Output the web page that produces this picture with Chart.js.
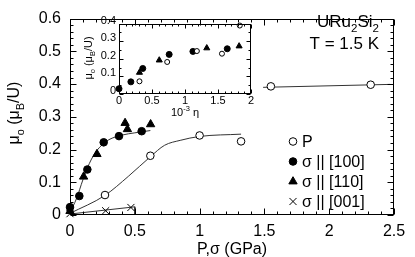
<!DOCTYPE html>
<html lang="en">
<head>
  <meta charset="UTF-8">
  <title>URu2Si2 ordered moment vs pressure</title>
  <script src="https://cdn.jsdelivr.net/npm/chart.js"></script>
  <style>
    html, body { margin: 0; padding: 0; background: #fff; }
    #wrap { position: relative; width: 415px; height: 257px; }
    #main { position: absolute; left: 0; top: 0; }
    #inset { position: absolute; left: 76px; top: 14px; }
  </style>
</head>
<body>
  <div id="wrap">
    <canvas id="main" width="415" height="257"></canvas>
    <canvas id="inset" width="180" height="110"></canvas>
  </div>
  <script>
    // main panel: moment vs hydrostatic P / uniaxial stress (GPa)
    const hydroP  = [0.27, 0.62, 1.0, 1.32, 1.55, 2.32];
    const hydroMu = [0.061, 0.181, 0.243, 0.225, 0.393, 0.398];
    const s100    = [0, 0.072, 0.134, 0.26, 0.378, 0.553];
    const s100Mu  = [0.024, 0.058, 0.139, 0.222, 0.241, 0.256];
    const s110    = [0, 0.105, 0.208, 0.425, 0.443, 0.622];
    const s110Mu  = [0.012, 0.117, 0.186, 0.281, 0.262, 0.277];
    const s001    = [0, 0.275, 0.47];
    const s001Mu  = [0.004, 0.013, 0.023];

    // guide lines through the data
    const fitSigX  = [0, 0.05, 0.1, 0.15, 0.2, 0.25, 0.3, 0.4, 0.5, 0.62];
    const fitSigY  = [0.008, 0.05, 0.108, 0.158, 0.193, 0.215, 0.23, 0.244, 0.251, 0.258];
    const fitLowX  = [0, 0.27, 0.45, 0.62, 0.73, 0.85, 1.0, 1.32];
    const fitLowY  = [0.005, 0.06, 0.118, 0.178, 0.213, 0.228, 0.24, 0.247];
    const fitHighX = [1.49, 2.47];
    const fitHighY = [0.39, 0.399];
    const fit001X  = [0, 0.5, 0.5];
    const fit001Y  = [0.003, 0.025, 0];

    // inset: moment vs strain (10^-3 eta)
    const inHydroEta = [0.31, 0.73, 1.18, 1.56, 1.83];
    const inHydroMu  = [0.072, 0.182, 0.244, 0.229, 0.389];
    const in100Eta   = [0, 0.18, 0.36, 0.76, 1.12, 1.64];
    const in100Mu    = [0.03, 0.069, 0.145, 0.225, 0.242, 0.257];
    const in110Eta   = [0.31, 0.61, 1.33, 1.82];
    const in110Mu    = [0.122, 0.192, 0.261, 0.272];

    const legendLabels = ['P', 'σ || [100]', 'σ || [110]', 'σ || [001]'];

    const FONT = '"Liberation Sans", Arial, sans-serif';
    Chart.defaults.font.family = FONT;
    Chart.defaults.color = '#000';

    const pts = (xs, ys) => xs.map((x, i) => ({ x: x, y: ys[i] }));
    const plainNum = v => String(Math.round(v * 100) / 100);

    // text with sub/superscripts, parts = [[text, 'n'|'sub'|'sup'], ...]
    function drawRich(ctx, parts, x, y, size, align) {
      let w = 0;
      const segs = parts.map(([t, k]) => {
        const s = k === 'n' ? size : size * 0.68;
        ctx.font = s + 'px ' + FONT;
        const m = ctx.measureText(t).width;
        w += m;
        return { t, k, s, m };
      });
      let cx = align === 'center' ? x - w / 2 : align === 'right' ? x - w : x;
      ctx.textAlign = 'left';
      ctx.textBaseline = 'alphabetic';
      segs.forEach(g => {
        ctx.font = g.s + 'px ' + FONT;
        const dy = g.k === 'sub' ? size * 0.3 : g.k === 'sup' ? -size * 0.42 : 0;
        ctx.fillText(g.t, cx, y + dy);
        cx += g.m;
      });
    }

    // box frame with inward ticks on all four sides
    const frameTicks = {
      id: 'frameTicks',
      afterDraw(chart, args, o) {
        const { ctx, chartArea: a } = chart;
        const xs = chart.scales.x, ys = chart.scales.y;
        const L = Math.round(a.left) + 0.5, R = Math.round(a.right) - 0.5;
        const T = Math.round(a.top) + 0.5, B = Math.round(a.bottom) - 0.5;
        ctx.save();
        ctx.strokeStyle = '#000';
        ctx.lineWidth = 1;
        ctx.strokeRect(L, T, R - L, B - T);
        ctx.beginPath();
        const isMajor = (v, step) => Math.abs(v / step - Math.round(v / step)) < 1e-6;
        let n = Math.round((xs.max - xs.min) / o.xMinor);
        for (let i = 0; i <= n; i++) {
          const v = xs.min + i * o.xMinor;
          const len = isMajor(v, o.xMajor) ? o.major : o.minor;
          const p = Math.round(xs.getPixelForValue(v)) + 0.5;
          ctx.moveTo(p, B); ctx.lineTo(p, B - len);
          ctx.moveTo(p, T); ctx.lineTo(p, T + len);
        }
        n = Math.round((ys.max - ys.min) / o.yMinor);
        for (let i = 0; i <= n; i++) {
          const v = ys.min + i * o.yMinor;
          const len = isMajor(v, o.yMajor) ? o.major : o.minor;
          const p = Math.round(ys.getPixelForValue(v)) + 0.5;
          ctx.moveTo(L, p); ctx.lineTo(L + len, p);
          ctx.moveTo(R, p); ctx.lineTo(R - len, p);
        }
        ctx.stroke();
        ctx.restore();
      }
    };

    const mainText = {
      id: 'mainText',
      afterDraw(chart) {
        const ctx = chart.ctx;
        ctx.save();
        ctx.fillStyle = '#000';
        ctx.strokeStyle = '#000';
        drawRich(ctx, [['URu', 'n'], ['2', 'sub'], ['Si', 'n'], ['2', 'sub']], 379, 27, 17, 'right');
        drawRich(ctx, [['T = 1.5 K', 'n']], 379, 49, 17, 'right');
        drawRich(ctx, [['P,σ (GPa)', 'n']], 232, 254, 16, 'center');
        ctx.save();
        ctx.translate(19, 113);
        ctx.rotate(-Math.PI / 2);
        drawRich(ctx, [['μ', 'n'], ['o', 'sub'], [' (μ', 'n'], ['B', 'sub'], ['/U)', 'n']], 0, 0, 16, 'center');
        ctx.restore();

        // legend from the marker datasets
        chart.data.datasets.filter(d => d.legendRow !== undefined).forEach(d => {
          const y = 141.5 + d.legendRow * 20;
          ctx.lineWidth = 1;
          ctx.fillStyle = d.pointBackgroundColor;
          ctx.strokeStyle = '#000';
          Chart.helpers.drawPoint(ctx, { pointStyle: d.pointStyle, radius: d.pointRadius, rotation: 0, borderWidth: 1 }, 293, y);
          ctx.fillStyle = '#000';
          ctx.font = '16px ' + FONT;
          ctx.textAlign = 'left';
          ctx.textBaseline = 'middle';
          ctx.fillText(d.label, 302, y + 1);
        });
        ctx.restore();
      }
    };

    const insetText = {
      id: 'insetText',
      afterDraw(chart) {
        const ctx = chart.ctx;
        ctx.save();
        ctx.fillStyle = '#000';
        drawRich(ctx, [['10', 'n'], ['-3', 'sup'], [' η', 'n']], 109, 102, 11, 'center');
        ctx.translate(16, 44);
        ctx.rotate(-Math.PI / 2);
        drawRich(ctx, [['μ', 'n'], ['o', 'sub'], [' (μ', 'n'], ['B', 'sub'], ['/U)', 'n']], 0, 0, 11, 'center');
        ctx.restore();
      }
    };

    const lineSet = (xs, ys, tension) => ({
      data: pts(xs, ys), showLine: true, pointRadius: 0, borderColor: '#333',
      borderWidth: 1, tension: tension, cubicInterpolationMode: tension ? 'monotone' : 'default', order: 2
    });
    const markSet = (label, xs, ys, style, r, fill, row) => ({
      label: label, data: pts(xs, ys), pointStyle: style, pointRadius: r,
      pointBackgroundColor: fill, pointBorderColor: '#000', pointBorderWidth: 1,
      showLine: false, clip: false, order: 1, legendRow: row
    });

    new Chart(document.getElementById('main'), {
      type: 'scatter',
      data: {
        datasets: [
          markSet(legendLabels[0], hydroP, hydroMu, 'circle', 3.8, '#fff', 0),
          markSet(legendLabels[1], s100, s100Mu, 'circle', 3.8, '#000', 1),
          markSet(legendLabels[2], s110, s110Mu, 'triangle', 4.8, '#000', 2),
          markSet(legendLabels[3], s001, s001Mu, 'crossRot', 5, '#000', 3),
          lineSet(fitSigX, fitSigY, 0.4),
          lineSet(fitLowX, fitLowY, 0.4),
          lineSet(fitHighX, fitHighY, 0),
          lineSet(fit001X, fit001Y, 0)
        ]
      },
      options: {
        responsive: false,
        animation: false,
        layout: { padding: { left: 0, right: 21, top: 14, bottom: 0 } },
        plugins: {
          legend: { display: false },
          tooltip: { enabled: false },
          frameTicks: { xMinor: 0.1, xMajor: 0.5, yMinor: 0.02, yMajor: 0.1, major: 6, minor: 3 }
        },
        scales: {
          x: {
            type: 'linear', min: 0, max: 2.5,
            ticks: { stepSize: 0.5, padding: 7, font: { size: 16 }, callback: plainNum },
            grid: { display: false, drawTicks: false }, border: { display: false },
            afterFit: s => { s.height = 42; }
          },
          y: {
            type: 'linear', min: 0, max: 0.6,
            ticks: { stepSize: 0.1, padding: 9, font: { size: 16 }, callback: plainNum },
            grid: { display: false, drawTicks: false }, border: { display: false },
            afterFit: s => { s.width = 70; }
          }
        }
      },
      plugins: [frameTicks, mainText]
    });

    new Chart(document.getElementById('inset'), {
      type: 'scatter',
      data: {
        datasets: [
          markSet('P', inHydroEta, inHydroMu, 'circle', 2.5, '#fff'),
          markSet('σ || [100]', in100Eta, in100Mu, 'circle', 3, '#000'),
          markSet('σ || [110]', in110Eta, in110Mu, 'triangle', 3.5, '#000')
        ]
      },
      options: {
        responsive: false,
        animation: false,
        layout: { padding: { left: 0, right: 5, top: 9, bottom: 0 } },
        plugins: {
          legend: { display: false },
          tooltip: { enabled: false },
          frameTicks: { xMinor: 0.1, xMajor: 0.5, yMinor: 0.05, yMajor: 0.1, major: 4, minor: 2 }
        },
        scales: {
          x: {
            type: 'linear', min: 0, max: 2,
            ticks: { stepSize: 0.5, padding: 0, font: { size: 11 }, callback: plainNum },
            grid: { display: false, drawTicks: false }, border: { display: false },
            afterFit: s => { s.height = 30; }
          },
          y: {
            type: 'linear', min: 0, max: 0.4,
            ticks: { stepSize: 0.1, padding: 3, labelOffset: -3, font: { size: 11 }, callback: plainNum },
            grid: { display: false, drawTicks: false }, border: { display: false },
            afterFit: s => { s.width = 43; }
          }
        }
      },
      plugins: [frameTicks, insetText]
    });
  </script>
</body>
</html>
